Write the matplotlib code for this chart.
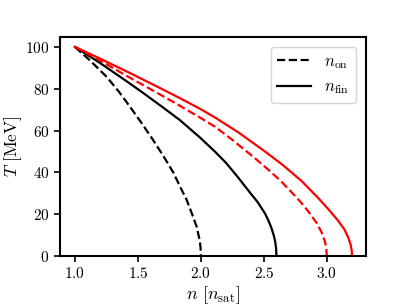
import matplotlib
matplotlib.use("Agg")
import matplotlib.pyplot as plt

plt.rcParams["font.family"] = "serif"
plt.rcParams["font.serif"] = ["cmr10"]
plt.rcParams["mathtext.fontset"] = "cm"
plt.rcParams["axes.formatter.use_mathtext"] = True

# black: onset / final density, first set
n_on_black = [1.0, 1.12, 1.25, 1.35, 1.437, 1.53, 1.62, 1.70, 1.78, 1.84,
              1.887, 1.93, 1.966, 1.99, 1.997, 2.0]
T_on_black = [100, 93.5, 85.8, 78.5, 71.4, 63.5, 55.5, 48.0, 40.0, 32.5,
              26.8, 20.0, 14.0, 7.6, 4.2, 0]

n_fin_black = [1.0, 1.2, 1.4, 1.53, 1.7, 1.833, 1.99, 2.11, 2.2, 2.296,
               2.40, 2.45, 2.508, 2.535, 2.56, 2.58, 2.59, 2.597, 2.6]
T_fin_black = [100, 92.3, 84.0, 78.5, 71.0, 65.0, 56.8, 50.0, 44.5, 37.5,
               29.5, 25.8, 20.4, 17.1, 13.4, 9.5, 6.7, 3.7, 0]

# red: second set
n_on_red = [1.0, 1.2, 1.4, 1.6, 1.8, 1.99, 2.11, 2.25, 2.43, 2.55, 2.64,
            2.746, 2.8, 2.85, 2.92, 2.96, 2.985, 2.995, 3.0]
T_on_red = [100, 93.5, 86.5, 79.8, 73.0, 66.3, 61.9, 55.5, 46.7, 40.5, 35.5,
            28.8, 25.2, 21.5, 15.7, 11.1, 6.8, 3.9, 0]

n_fin_red = [1.0, 1.2, 1.437, 1.65, 1.833, 1.99, 2.11, 2.3, 2.508, 2.65, 2.8,
             2.93, 3.02, 3.09, 3.14, 3.17, 3.19, 3.198, 3.2]
T_fin_red = [100, 94.4, 87.5, 81.1, 75.5, 70.5, 66.3, 59.0, 50.0, 43.5, 35.8,
             27.8, 21.8, 16.8, 12.6, 8.8, 5.1, 2.3, 0]

xticks = [1.0, 1.5, 2.0, 2.5, 3.0]
yticks = [0, 20, 40, 60, 80, 100]

fig = plt.figure(figsize=(4.07, 3.05), dpi=100)
ax = fig.add_axes([0.147, 0.161, 0.752, 0.718])

lw = 1.6
ax.plot(n_on_black, T_on_black, color="black", ls="--", lw=lw)
ax.plot(n_fin_black, T_fin_black, color="black", ls="-", lw=lw)
ax.plot(n_on_red, T_on_red, color="red", ls="--", lw=lw)
ax.plot(n_fin_red, T_fin_red, color="red", ls="-", lw=lw)

# legend proxies
ax.plot([], [], color="black", ls="--", lw=lw, label=r"$n_{\rm on}$")
ax.plot([], [], color="black", ls="-", lw=lw, label=r"$n_{\rm fin}$")

ax.set_xlim(0.88, 3.31)
ax.set_ylim(0, 104.8)
ax.set_xticks(xticks)
ax.set_yticks(yticks)
ax.tick_params(direction="out", length=4, width=1.2, labelsize=11)
for s in ax.spines.values():
    s.set_linewidth(1.5)

ax.set_xlabel(r"$n\ [n_{\rm sat}]$", fontsize=13, labelpad=2)
ax.set_ylabel(r"$T\ [\rm MeV]$", fontsize=12.5, labelpad=1)

ax.legend(loc="upper right", fontsize=12, frameon=True, handlelength=2.0,
          borderaxespad=0.6)

fig.savefig("out.png", dpi=100)
